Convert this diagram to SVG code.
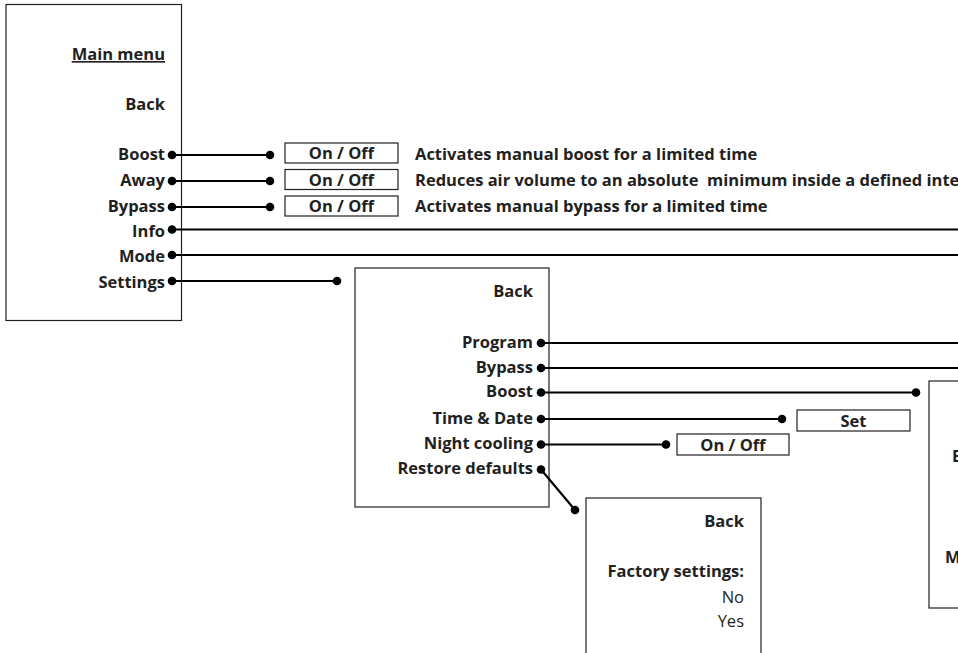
<svg xmlns="http://www.w3.org/2000/svg" width="958" height="653" viewBox="0 0 958 653">
<style>
.box{fill:#fff;stroke:#231f20;stroke-width:1.2}
.t{font-family:"Open Sans","Liberation Sans",sans-serif;font-weight:bold;font-size:16.5px;fill:#231f20}
.r{text-anchor:end}
.c{text-anchor:middle}
.n{font-weight:normal}
.ln{stroke:#000;stroke-width:2.2;fill:none}
.dot{fill:#000}
</style>
<rect width="958" height="653" fill="#fff"/>
<g id="main-menu">
<rect class="box" x="6" y="4.5" width="175.5" height="316"/>
<text class="t r" x="165" y="60" text-decoration="underline">Main menu</text>
<text class="t r" x="165" y="110">Back</text>
<text class="t r" x="165" y="160">Boost</text>
<text class="t r" x="165" y="186">Away</text>
<text class="t r" x="165" y="212">Bypass</text>
<text class="t r" x="165" y="237">Info</text>
<text class="t r" x="165" y="262">Mode</text>
<text class="t r" x="165" y="288">Settings</text>
</g>
<g id="boost-onoff"><rect class="box" x="285" y="143" width="113" height="20"/><text class="t c" x="341.5" y="159">On / Off</text></g>
<g id="away-onoff"><rect class="box" x="285" y="169.5" width="113" height="20"/><text class="t c" x="341.5" y="185.5">On / Off</text></g>
<g id="bypass-onoff"><rect class="box" x="285" y="196" width="113" height="20"/><text class="t c" x="341.5" y="212">On / Off</text></g>
<g id="desc">
<text class="t" x="415" y="160">Activates manual boost for a limited time</text>
<text class="t" x="415" y="186" xml:space="preserve">Reduces air volume to an absolute  minimum inside a defined interval</text>
<text class="t" x="415" y="212">Activates manual bypass for a limited time</text>
</g>
<g id="settings-menu">
<rect class="box" x="355" y="268" width="194" height="239"/>
<text class="t r" x="533" y="297">Back</text>
<text class="t r" x="533" y="348">Program</text>
<text class="t r" x="533" y="373">Bypass</text>
<text class="t r" x="533" y="397">Boost</text>
<text class="t r" x="533" y="424">Time &amp; Date</text>
<text class="t r" x="533" y="449">Night cooling</text>
<text class="t r" x="533" y="474">Restore defaults</text>
</g>
<g id="time-set"><rect class="box" x="797" y="410" width="113" height="21"/><text class="t c" x="853.5" y="426.5">Set</text></g>
<g id="night-onoff"><rect class="box" x="677" y="434" width="112" height="21"/><text class="t c" x="733" y="450.5">On / Off</text></g>
<g id="restore-menu">
<rect class="box" x="586" y="498" width="175" height="170"/>
<text class="t r" x="744" y="527">Back</text>
<text class="t r" x="744" y="577">Factory settings:</text>
<text class="t r n" x="744" y="603">No</text>
<text class="t r n" x="744" y="627">Yes</text>
</g>
<g id="boost-menu">
<rect class="box" x="929" y="381" width="60" height="227"/>
<text class="t" x="952" y="462">E</text>
<text class="t" x="945" y="563">M</text>
</g>
<g id="connectors">
<line class="ln" x1="172" y1="155" x2="270" y2="155"/>
<line class="ln" x1="172" y1="181" x2="270" y2="181"/>
<line class="ln" x1="172" y1="207" x2="270" y2="207"/>
<line class="ln" x1="172" y1="229.5" x2="958" y2="229.5"/>
<line class="ln" x1="172" y1="255" x2="958" y2="255"/>
<line class="ln" x1="172" y1="281" x2="337" y2="281"/>
<line class="ln" x1="541" y1="343" x2="958" y2="343"/>
<line class="ln" x1="541" y1="368" x2="958" y2="368"/>
<line class="ln" x1="541" y1="392.5" x2="916" y2="392.5"/>
<line class="ln" x1="541" y1="419" x2="782" y2="419"/>
<line class="ln" x1="541" y1="444.5" x2="666" y2="444.5"/>
<line class="ln" x1="541" y1="469.5" x2="575" y2="510"/>
<circle class="dot" cx="172" cy="155" r="4.3"/><circle class="dot" cx="270" cy="155" r="4.3"/>
<circle class="dot" cx="172" cy="181" r="4.3"/><circle class="dot" cx="270" cy="181" r="4.3"/>
<circle class="dot" cx="172" cy="207" r="4.3"/><circle class="dot" cx="270" cy="207" r="4.3"/>
<circle class="dot" cx="172" cy="229.5" r="4.3"/>
<circle class="dot" cx="172" cy="255" r="4.3"/>
<circle class="dot" cx="172" cy="281" r="4.3"/><circle class="dot" cx="337" cy="281" r="4.3"/>
<circle class="dot" cx="541" cy="343" r="4.3"/>
<circle class="dot" cx="541" cy="368" r="4.3"/>
<circle class="dot" cx="541" cy="392.5" r="4.3"/><circle class="dot" cx="916" cy="392.5" r="4.3"/>
<circle class="dot" cx="541" cy="419" r="4.3"/><circle class="dot" cx="782" cy="419" r="4.3"/>
<circle class="dot" cx="541" cy="444.5" r="4.3"/><circle class="dot" cx="666" cy="444.5" r="4.3"/>
<circle class="dot" cx="541" cy="469.5" r="4.3"/><circle class="dot" cx="575" cy="510" r="4.3"/>
</g>
</svg>
